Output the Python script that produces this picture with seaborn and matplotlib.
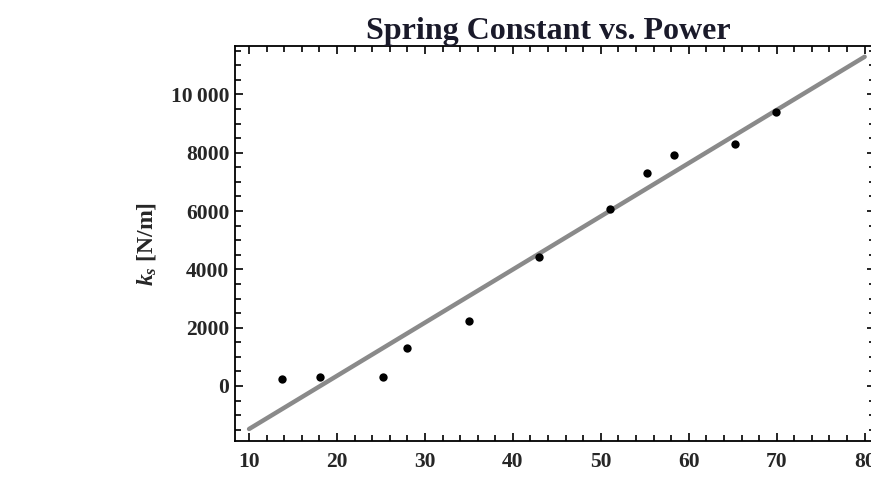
import matplotlib
matplotlib.use("Agg")
import matplotlib.pyplot as plt
import seaborn as sns
import pandas as pd
from matplotlib.ticker import MultipleLocator, FuncFormatter

power = [13.8, 18.1, 25.2, 28.0, 35.0, 43.0, 51.0, 55.3, 58.3, 65.3, 69.9]
spring_k = [240, 320, 320, 1315, 2230, 4425, 6070, 7320, 7925, 8290, 9380]
fit_x = [10, 80]
fit_y = [-1475, 11290]

sns.set_theme(style="ticks")
plt.rcParams['font.family'] = ['Liberation Serif', 'DejaVu Serif']
plt.rcParams['mathtext.fontset'] = 'custom'
plt.rcParams['mathtext.it'] = 'Liberation Serif:italic:bold'
plt.rcParams['mathtext.rm'] = 'Liberation Serif:bold'

fig = plt.figure(figsize=(8.71, 4.79), dpi=100)
ax = fig.add_axes([0.2698, 0.0793, 0.7325 + 0.0025, 0.8247])

df_pts = pd.DataFrame({"power": power, "k": spring_k})
df_fit = pd.DataFrame({"power": fit_x, "k": fit_y})
sns.lineplot(data=df_fit, x="power", y="k", ax=ax, color="#8a8a8a", linewidth=3.2)
sns.scatterplot(data=df_pts, x="power", y="k", ax=ax, color="black", s=36,
                marker="o", edgecolor="black", linewidth=0, zorder=3)

ax.set_xlim(8.4, 81.2)
ax.set_ylim(-1887, 11660)
ax.xaxis.set_major_locator(MultipleLocator(10))
ax.xaxis.set_minor_locator(MultipleLocator(2))
ax.yaxis.set_major_locator(MultipleLocator(2000))
ax.yaxis.set_minor_locator(MultipleLocator(500))

def yfmt(v, pos):
    v = int(round(v))
    if abs(v) >= 10000:
        s = f"{v:,}".replace(",", "\u2009")
        return s
    return str(v)
ax.yaxis.set_major_formatter(FuncFormatter(yfmt))

ax.tick_params(which="both", direction="in", top=True, right=True, color="black", width=1.2)
ax.tick_params(which="major", length=6, labelsize=15.5, pad=4)
ax.tick_params(which="x", pad=7) if False else None
ax.tick_params(axis="x", which="major", pad=8)
for lab in ax.get_xticklabels() + ax.get_yticklabels():
    lab.set_fontweight("bold")
for sp in ax.spines.values():
    sp.set_linewidth(1.3)
    sp.set_color("black")

ax.set_xlabel("")
ax.set_ylabel(r"$k_s$ [N/m]", fontsize=17, fontweight="bold", labelpad=9)
ax.set_title("Spring Constant vs. Power", fontsize=23, fontweight="bold",
             color="#1a1a2a", pad=5, x=(548 - 235) / (0.735 * 871))

fig.savefig("out.png", dpi=100)
